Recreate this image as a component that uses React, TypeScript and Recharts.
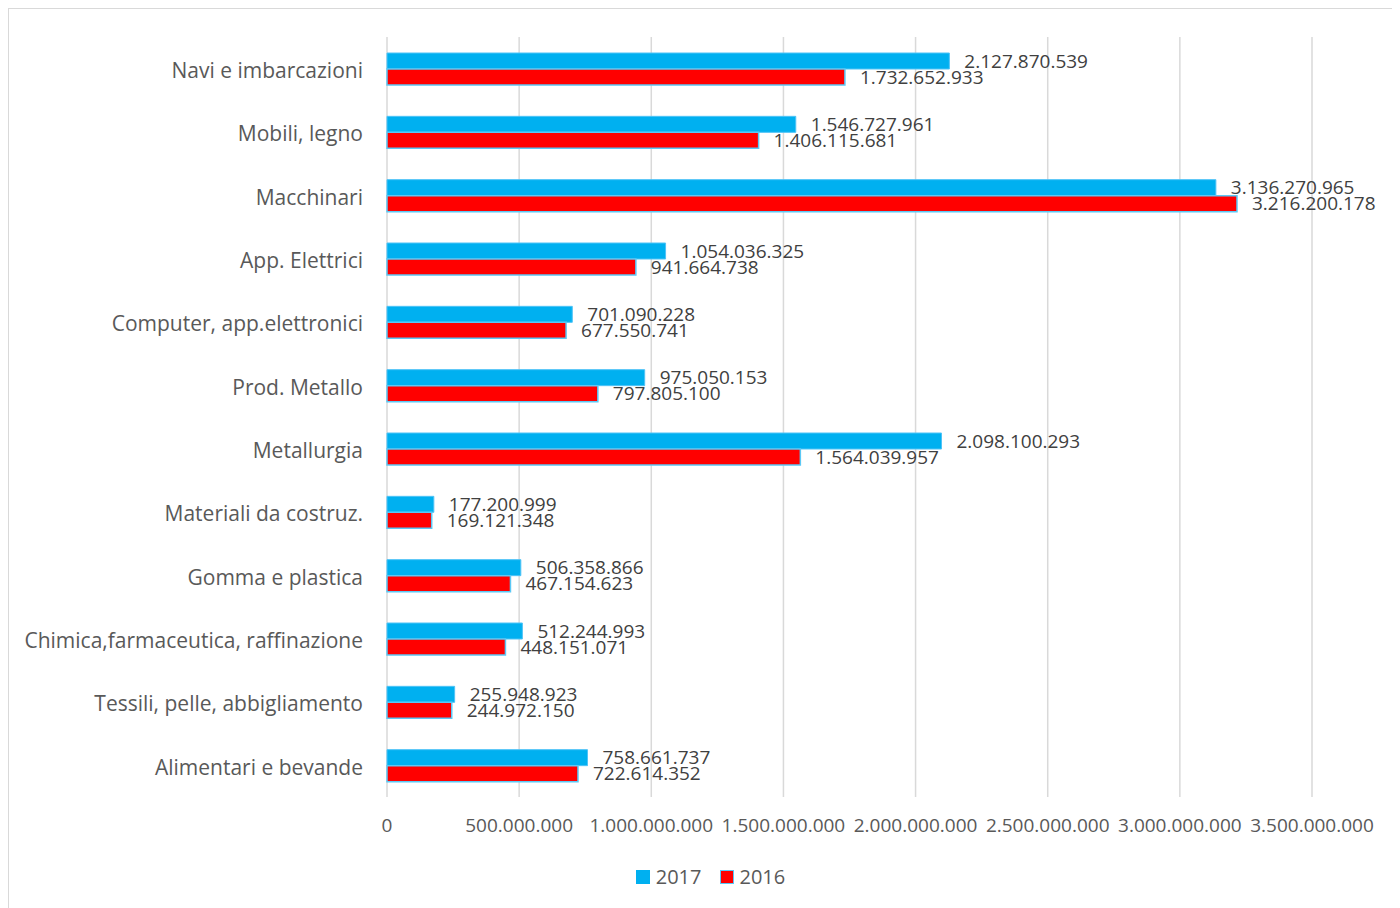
import { BarChart, Bar, XAxis, YAxis, CartesianGrid, Legend, LabelList } from 'recharts';

const categorie = [
  'Navi e imbarcazioni',
  'Mobili, legno',
  'Macchinari',
  'App. Elettrici',
  'Computer, app.elettronici',
  'Prod. Metallo',
  'Metallurgia',
  'Materiali da costruz.',
  'Gomma e plastica',
  'Chimica,farmaceutica, raffinazione',
  'Tessili, pelle, abbigliamento',
  'Alimentari e bevande',
];

const valori2017 = [
  2127870539, 1546727961, 3136270965, 1054036325, 701090228, 975050153,
  2098100293, 177200999, 506358866, 512244993, 255948923, 758661737,
];

const valori2016 = [
  1732652933, 1406115681, 3216200178, 941664738, 677550741, 797805100,
  1564039957, 169121348, 467154623, 448151071, 244972150, 722614352,
];

const tickX = [0, 500000000, 1000000000, 1500000000, 2000000000, 2500000000, 3000000000, 3500000000];

const BLU = '#00B0F0';
const ROSSO = '#FF0000';

// formato italiano con i punti come separatore delle migliaia
const formatta = (v: number) => String(v).replace(/\B(?=(\d{3})+(?!\d))/g, '.');

const dati = categorie.map((nome, i) => ({
  nome,
  v2017: valori2017[i],
  v2016: valori2016[i],
}));

function Legenda() {
  const voci = [
    { label: '2017', color: BLU, stroke: BLU },
    { label: '2016', color: ROSSO, stroke: '#5BC8F5' },
  ];
  return (
    <div
      style={{
        display: 'flex',
        justifyContent: 'center',
        gap: 18,
        fontSize: 20,
        color: '#595959',
        paddingLeft: 100,
        paddingTop: 2,
      }}
    >
      {voci.map((v) => (
        <div key={v.label} style={{ display: 'flex', alignItems: 'center', gap: 6 }}>
          <span
            style={{
              display: 'inline-block',
              width: 12,
              height: 12,
              background: v.color,
              border: `1px solid ${v.stroke}`,
            }}
          />
          <span>{v.label}</span>
        </div>
      ))}
    </div>
  );
}

export default function App() {
  return (
    <div
      style={{
        width: 1400,
        height: 910,
        border: '1px solid #d9d9d9',
        fontFamily: '"Open Sans", sans-serif',
        background: '#fff',
        boxSizing: 'border-box',
      }}
    >
      <BarChart
        layout="vertical"
        width={1390}
        height={898}
        data={dati}
        margin={{ top: 28, right: 87, bottom: 16, left: 0 }}
        barGap={0}
        barSize={16}
      >
        <CartesianGrid horizontal={false} stroke="#d9d9d9" strokeWidth={1.5} />
        <XAxis
          type="number"
          domain={[0, 3500000000]}
          ticks={tickX}
          tickFormatter={formatta}
          axisLine={false}
          tickLine={false}
          tickSize={0}
          tickMargin={22}
          height={64}
          tick={{ fill: '#595959', fontSize: 19 }}
          interval={0}
        />
        <YAxis
          type="category"
          dataKey="nome"
          width={378}
          axisLine={false}
          tickLine={false}
          tickSize={0}
          tickMargin={24}
          tick={{ fill: '#595959', fontSize: 21, dy: 2 }}
          interval={0}
        />
        <Legend verticalAlign="bottom" height={30} content={() => <Legenda />} />
        <Bar dataKey="v2017" name="2017" fill={BLU} stroke="#4FC3F7" strokeWidth={1} isAnimationActive={false}>
          <LabelList dataKey="v2017" position="right" offset={15} formatter={formatta} fill="#404040" fontSize={19} />
        </Bar>
        <Bar dataKey="v2016" name="2016" fill={ROSSO} stroke="#5BC8F5" strokeWidth={1.5} isAnimationActive={false}>
          <LabelList dataKey="v2016" position="right" offset={15} formatter={formatta} fill="#404040" fontSize={19} />
        </Bar>
      </BarChart>
    </div>
  );
}
